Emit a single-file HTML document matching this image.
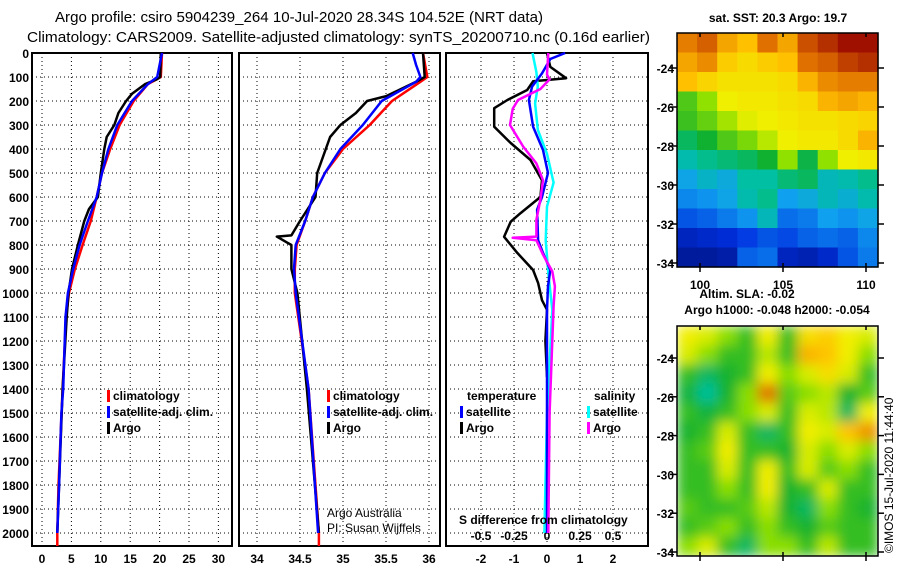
<!DOCTYPE html>
<html><head><meta charset="utf-8"><style>
body{margin:0;background:#fff;}
svg{display:block;font-family:"Liberation Sans",sans-serif;}
.t{font-weight:bold;font-size:12px;}
</style></head><body>
<svg id="c" width="900" height="580" viewBox="0 0 900 580">
<text x="55" y="22" font-size="15" textLength="488" lengthAdjust="spacingAndGlyphs">Argo profile: csiro 5904239_264 10-Jul-2020 28.34S 104.52E (NRT data)</text>
<text x="27" y="42" font-size="15" textLength="623" lengthAdjust="spacingAndGlyphs">Climatology: CARS2009. Satellite-adjusted climatology: synTS_20200710.nc (0.16d earlier)</text>
<g id="g"></g>
</svg>
<script>
// ---- data ----
const depthTicks=[0,100,200,300,400,500,600,700,800,900,1000,1100,1200,1300,1400,1500,1600,1700,1800,1900,2000];
const tempTicks=[0,5,10,15,20,25,30];
const salTicks=[34,34.5,35,35.5,36];
const salLabels=["34","34.5","35","35.5","36"];
const diffTicks=[-2,-1,0,1,2];
const sdiffTicks=[-0.5,-0.25,0,0.25,0.5];
const sdiffLabels=["-0.5","-0.25","0","0.25","0.5"];

const tClimZ=[0,100,130,200,300,400,500,600,700,800,900,1000,1100,1400,1800,2000,2054];
const tClim=[20.4,20.2,18.0,15.6,13.2,11.6,10.2,9.3,8.3,6.9,5.6,4.6,4.1,3.5,2.8,2.6,2.6];
const tSatZ=[0,100,130,200,300,400,500,600,700,800,900,1000,1100,1400,1500,1800,2000];
const tSat=[20.4,19.6,18.0,15.3,12.8,11.3,10.2,9.3,7.8,6.4,5.3,4.4,4.0,3.6,3.3,2.9,2.6];
const tArgoZ=[0,100,110,130,170,200,250,300,350,400,500,600,650,700,800,900,1000,1100,1400,2000];
const tArgo=[20.2,20.1,19.5,17.5,15.3,14.3,13.0,12.3,11.0,10.6,10.0,9.5,8.0,7.2,6.1,5.1,4.5,4.2,3.5,2.6];

const sClimZ=[0,100,120,200,300,400,500,600,700,800,900,1000,1400,2000,2054];
const sClim=[35.93,35.98,35.9,35.57,35.31,35.0,34.79,34.65,34.56,34.46,34.44,34.44,34.6,34.72,34.72];
const sSatZ=[0,50,100,120,200,300,400,500,600,700,800,900,1000,1400,2000];
const sSat=[35.81,35.85,35.9,35.85,35.45,35.23,34.97,34.79,34.65,34.56,34.45,34.43,34.45,34.6,34.71];
const sArgoZ=[0,100,120,180,200,250,300,350,400,500,600,700,760,765,790,800,900,1000,1400,2000];
const sArgo=[35.93,35.95,35.85,35.5,35.28,35.15,34.97,34.85,34.8,34.7,34.68,34.5,34.4,34.23,34.35,34.4,34.4,34.47,34.58,34.72];

const dTArgoZ=[0,58,105,118,154,196,230,307,375,446,530,600,667,703,766,833,904,958,1030,1070,1200,1350];
const dTArgo=[0,0.1,0.58,-0.42,-0.6,-1.2,-1.6,-1.6,-1.1,-0.5,-0.15,-0.2,-0.8,-1.1,-1.3,-0.9,-0.42,-0.27,-0.15,0,-0.05,0];
const dTSatZ=[0,25,85,140,196,307,404,500,600,653,780,833,904,972,1070,1400,2000];
const dTSat=[0.55,0.1,-0.15,-0.45,-0.55,-0.42,-0.12,0.03,-0.15,-0.3,-0.27,-0.12,0.1,0.03,0,0,0];
const dSSatZ=[0,80,140,210,320,420,540,640,780,917,1070,1500,2000];
const dSSat=[-0.11,-0.08,-0.07,-0.09,-0.07,0,0.05,0,-0.01,0.01,0.04,0,-0.02];
const dSArgoZ=[0,90,110,150,196,233,300,390,460,530,610,695,765,770,780,840,910,972,1055,1500,2000];
const dSArgo=[0.01,0,0.02,-0.05,-0.22,-0.26,-0.28,-0.18,-0.08,-0.03,-0.05,-0.08,-0.08,-0.26,-0.08,-0.03,0.04,0.06,0.05,0.02,0.01];

const mapLonTicks=[100,105,110];
const mapLatTicks=[-24,-26,-28,-30,-32,-34];
const sst=[
[22.3,22.5,22.0,21.8,22.4,22.0,22.6,22.8,23.0,23.0],
[22.0,22.2,21.6,21.4,21.6,21.8,22.4,22.5,22.7,22.8],
[21.8,21.5,21.3,21.3,21.3,21.4,21.9,22.2,22.3,22.3],
[20.3,20.6,21.1,21.2,21.2,21.3,21.4,21.9,22.0,21.9],
[20.2,20.4,20.7,21.0,21.1,21.2,21.3,21.3,21.4,21.5],
[19.8,20.0,20.3,20.5,20.8,21.1,21.2,21.2,21.4,21.9],
[19.4,19.6,19.7,19.8,20.0,20.6,19.9,20.6,21.1,21.2],
[18.9,19.2,19.0,19.5,19.5,19.7,19.8,19.3,19.4,19.6],
[18.6,18.7,18.9,19.4,19.6,18.8,19.0,19.3,19.1,19.4],
[18.2,18.3,18.5,18.7,19.3,18.4,18.5,18.8,18.7,18.9],
[17.6,17.7,17.8,18.0,18.2,18.1,18.3,18.4,18.3,18.6],
[17.3,17.3,17.4,18.3,18.4,17.6,17.5,17.7,18.2,18.5]];
const sla=[
[0.62,0.6,0.55,0.5,0.62,0.5,0.65,0.68,0.62,0.6],
[0.6,0.55,0.5,0.5,0.58,0.5,0.72,0.7,0.62,0.55],
[0.5,0.45,0.48,0.5,0.62,0.55,0.6,0.65,0.6,0.5],
[0.47,0.42,0.48,0.55,0.78,0.52,0.55,0.58,0.48,0.52],
[0.5,0.47,0.5,0.55,0.6,0.5,0.6,0.58,0.45,0.62],
[0.48,0.5,0.6,0.5,0.45,0.5,0.62,0.6,0.7,0.75],
[0.5,0.52,0.62,0.5,0.5,0.48,0.6,0.55,0.6,0.55],
[0.5,0.5,0.6,0.5,0.62,0.5,0.6,0.52,0.55,0.5],
[0.5,0.5,0.55,0.5,0.62,0.48,0.5,0.6,0.5,0.5],
[0.52,0.5,0.5,0.52,0.58,0.48,0.45,0.55,0.5,0.48],
[0.5,0.52,0.55,0.5,0.55,0.5,0.48,0.52,0.5,0.5],
[0.55,0.6,0.5,0.45,0.55,0.55,0.5,0.58,0.5,0.5]];

// ---- axes ----
const yD=z=>53+0.24*z;
const p1x=v=>42+5.88*v;
const p2x=v=>257+86*(v-34);
const p3xT=v=>547+33*v;
const p3xS=v=>547+132*v;
const NS='http://www.w3.org/2000/svg';
const G=document.getElementById('g');
function mk(tag,at,parent){const e=document.createElementNS(NS,tag);for(const k in at)e.setAttribute(k,at[k]);(parent||G).appendChild(e);return e;}
function txt(x,y,s,cls,anchor,size){const e=mk('text',{x:x,y:y,'text-anchor':anchor||'start'});if(cls)e.setAttribute('class',cls);if(size)e.setAttribute('font-size',size);e.textContent=s;return e;}

const panels=[{x0:32,x1:232,fx:p1x,ticks:tempTicks,labels:tempTicks.map(String),n:'temperature'},
 {x0:239,x1:440,fx:p2x,ticks:salTicks,labels:salLabels,n:'salinity'},
 {x0:446,x1:648,fx:p3xT,ticks:diffTicks,labels:diffTicks.map(String),n:'difference'}];
panels.forEach(p=>{
  depthTicks.forEach(z=>{const l=mk('line',{x1:p.x0,x2:p.x1,y1:yD(z),y2:yD(z),stroke:'#000','stroke-dasharray':'1,3','stroke-width':1});
    
    });
  p.ticks.forEach((v,i)=>{const x=p.fx(v);const l=mk('line',{x1:x,x2:x,y1:53,y2:546,stroke:'#000','stroke-dasharray':'1,3','stroke-width':1});
    
    
    const t=txt(x,563,p.labels[i],'t','middle');
    
    });
  const r=mk('rect',{x:p.x0,y:53,width:p.x1-p.x0,height:493,fill:'none',stroke:'#000','stroke-width':2});
  
  
});
depthTicks.forEach(z=>{const t=txt(29,yD(z)+5,String(z),'t','end');
  
  });
sdiffTicks.forEach((v,i)=>{const t=txt(p3xS(v),540,sdiffLabels[i],'t','middle');
  
  });

function series(zs,vs,fx,color,name,w){
  const pts=zs.map((z,i)=>fx(vs[i]).toFixed(1)+','+yD(z).toFixed(1)).join(' ');
  const e=mk('polyline',{points:pts,fill:'none',stroke:color,'stroke-width':w||2.5,'stroke-linejoin':'round'});
  
  
}
series(tClimZ,tClim,p1x,'#f00','temp-climatology-line');
series(tArgoZ,tArgo,p1x,'#000','temp-argo-line');
series(tSatZ,tSat,p1x,'#00f','temp-satellite-adj-line');
series(sClimZ,sClim,p2x,'#f00','sal-climatology-line');
series(sArgoZ,sArgo,p2x,'#000','sal-argo-line');
series(sSatZ,sSat,p2x,'#00f','sal-satellite-adj-line');
series(dTArgoZ,dTArgo,p3xT,'#000','diff-temp-argo-line');
series(dSSatZ,dSSat,p3xS,'#0ff','diff-sal-satellite-line');
series(dTSatZ,dTSat,p3xT,'#00f','diff-temp-satellite-line');
series(dSArgoZ,dSArgo,p3xS,'#f0f','diff-sal-argo-line');

function legend(x,y,color,label,nm){
  const r=mk('rect',{x:x,y:y-10,width:3,height:12,fill:color});
  
  
  const t=txt(x+6,y,label,'t');
  
  
}
[[107,'temp'],[327,'sal']].forEach(([x,n])=>{
  legend(x,400,'#f00','climatology',n+'-legend-climatology');
  legend(x,416,'#00f','satellite-adj. clim.',n+'-legend-satellite-adj');
  legend(x,432,'#000','Argo',n+'-legend-argo');
});
let h=txt(467,400,'temperature','t');
h=txt(594,400,'salinity','t');
legend(460,416,'#00f','satellite','diff-legend-temp-satellite');
legend(460,432,'#000','Argo','diff-legend-temp-argo');
legend(587,416,'#0ff','satellite','diff-legend-sal-satellite');
legend(587,432,'#f0f','Argo','diff-legend-sal-argo');
h=txt(327,517,'Argo Australia',null,'start',12);
h=txt(327,532,'PI: Susan Wijffels',null,'start',12);
h=txt(459,524,'S difference from climatology','t');

// ---- maps ----
const stops=[[0,[0,16,122]],[0.15,[0,48,224]],[0.3,[16,160,240]],[0.42,[0,192,160]],[0.5,[16,176,48]],[0.6,[144,224,0]],[0.68,[240,240,0]],[0.8,[255,192,0]],[0.9,[224,112,0]],[1,[160,16,0]]];
function cmap(t){t=Math.max(0,Math.min(1,t));for(let i=1;i<stops.length;i++){if(t<=stops[i][0]){const a=stops[i-1],b=stops[i],f=(t-a[0])/(b[0]-a[0]);return 'rgb('+a[1].map((c,k)=>Math.round(c+(b[1][k]-c)*f)).join(',')+')';}}return 'rgb(160,16,0)';}
const defs=mk('defs',{});
const fl=mk('filter',{id:'bl',x:'0',y:'0',width:'1',height:'1'},defs);
mk('feGaussianBlur',{stdDeviation:'6',edgeMode:'duplicate'},fl);
const cp=mk('clipPath',{id:'cp2'},defs);mk('rect',{x:677,y:326,width:201,height:230},cp);
function drawMap(data,x0,y0,w,hgt,norm,nm,blur){
  const g=mk('g',{});
  
  
  const inner=blur?mk('g',{filter:'url(#bl)'},mk('g',{'clip-path':'url(#cp2)'},g)):g;
  const rows=data.length,cols=data[0].length,cw=w/cols,ch=hgt/rows;
  data.forEach((row,r)=>row.forEach((v,c)=>{
    const e=mk('rect',{x:(x0+c*cw).toFixed(1),y:(y0+r*ch).toFixed(1),width:(cw+0.6).toFixed(1),height:(ch+0.6).toFixed(1),fill:cmap(norm(v))},inner);
    
    
  }));
  const f=mk('rect',{x:x0,y:y0,width:w,height:hgt,fill:'none',stroke:'#000','stroke-width':1.5});
  
  
}
drawMap(sst,677,33,201,234,v=>(v-17)/6,'sst-map',false);
drawMap(sla,677,326,201,230,v=>(v-0.5)*1.3+0.53,'sla-map',true);
const lonX=v=>700+16.6*(v-100);
function mapAxes(y0,y1,latY,nm,lonLabels){
  mapLatTicks.forEach(l=>{const y=latY(l);
    mk('line',{x1:670,x2:677,y1:y,y2:y,stroke:'#000','stroke-width':1.5});
    mk('line',{x1:878,x2:884,y1:y,y2:y,stroke:'#000','stroke-width':1.5});
    const t=txt(674,y+5,String(l),'t','end');
    
    });
  mapLonTicks.forEach(v=>{const x=lonX(v);
    mk('line',{x1:x,x2:x,y1:y0,y2:y0+4,stroke:'#000','stroke-width':1.5});
    mk('line',{x1:x,x2:x,y1:y1-4,y2:y1+5,stroke:'#000','stroke-width':1.5});
    if(lonLabels){const t=txt(x,289,String(v),'t','middle',13);
      
      }});
}
mapAxes(33,267,l=>68+19.5*(-24-l),'sst-map',true);
mapAxes(326,556,l=>358+19.4*(-24-l),'sla-map',false);
h=txt(778,22,'sat. SST: 20.3 Argo: 19.7','t','middle');
h=txt(747,298,'Altim. SLA: -0.02','t','middle');
h=txt(777,314,'Argo h1000: -0.048 h2000: -0.054','t','middle');
h=txt(0,0,'©IMOS 15-Jul-2020 11:44:40',null,'start',12);h.setAttribute('transform','translate(893,553) rotate(-90)');

</script>
</body></html>
